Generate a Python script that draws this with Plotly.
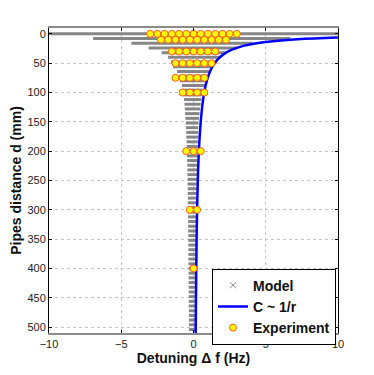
import plotly.graph_objects as go

# model spread: one row every 8 mm, lowest and highest detuning of the row (Hz)
MODEL_D = list(range(0, 505, 8))
MODEL_LO = [
    -10.5, -6.95, -4.3, -3.1, -2.2, -1.76, -1.56, -1.42, -1.14, -1.0,
    -0.93, -0.8, -0.75, -0.7, -0.66, -0.62, -0.6, -0.58, -0.56, -0.54,
    -0.52, -0.5, -0.5, -0.48, -0.47, -0.46, -0.45, -0.44, -0.43, -0.42,
    -0.42, -0.41, -0.41, -0.4, -0.4, -0.39, -0.39, -0.38, -0.38, -0.38,
    -0.37, -0.37, -0.37, -0.36, -0.36, -0.36, -0.35, -0.35, -0.35, -0.35,
    -0.34, -0.34, -0.34, -0.34, -0.33, -0.33, -0.33, -0.33, -0.33, -0.32,
    -0.32, -0.32, -0.32, -0.32,
]
MODEL_HI = [
    10.5, 6.7, 4.1, 3.0, 2.25, 1.76, 1.62, 1.35, 1.14, 0.93,
    0.86, 0.8, 0.66, 0.6, 0.55, 0.5, 0.46, 0.42, 0.38, 0.35,
    0.33, 0.32, 0.31, 0.3, 0.29, 0.28, 0.27, 0.26, 0.25, 0.25,
    0.24, 0.24, 0.23, 0.23, 0.22, 0.22, 0.21, 0.21, 0.21, 0.2,
    0.2, 0.2, 0.2, 0.19, 0.19, 0.19, 0.19, 0.18, 0.18, 0.18,
    0.18, 0.18, 0.17, 0.17, 0.17, 0.17, 0.17, 0.17, 0.16, 0.16,
    0.16, 0.16, 0.16, 0.16,
]

# C ~ 1/r curve
CURVE_D = [5, 7, 10, 15, 20, 27, 35, 45, 56, 70, 90, 113, 150, 200, 300, 400, 510]
CURVE_F = [12.1, 9.1, 6.7, 4.6, 3.5, 2.66, 2.07, 1.62, 1.31, 1.05, 0.82, 0.66,
           0.5, 0.37, 0.25, 0.19, 0.15]

# experiment: measured detunings per pipe distance
EXP_D = [0, 10, 30, 50, 75, 100, 200, 300, 400]
EXP_F = [
    [-3, -2.5, -2, -1.5, -1, -0.5, 0, 0.5, 1, 1.5, 2, 2.5, 3],
    [-2.25, -1.75, -1.25, -0.75, -0.25, 0.25, 0.75, 1.25, 1.75, 2.25],
    [-1.5, -1, -0.5, 0, 0.5, 1, 1.5],
    [-1.25, -0.75, -0.25, 0.25, 0.75, 1.25],
    [-1.25, -0.75, -0.25, 0.25, 0.75],
    [-0.75, -0.25, 0.25, 0.75],
    [-0.5, 0, 0.5],
    [-0.25, 0.25],
    [0],
]

FONT = "Liberation Sans, Arial, sans-serif"

seg_x, seg_y = [], []
for d, lo, hi in zip(MODEL_D, MODEL_LO, MODEL_HI):
    seg_x += [lo, hi, None]
    seg_y += [d, d, None]

exp_x, exp_y = [], []
for d, row in zip(EXP_D, EXP_F):
    exp_x += row
    exp_y += [d] * len(row)

fig = go.Figure()
fig.add_trace(go.Scatter(
    x=seg_x, y=seg_y, mode="lines", line=dict(color="#868686", width=3),
    showlegend=False, hoverinfo="skip", legendgroup="model",
))
fig.add_trace(go.Scatter(
    x=[None], y=[None], mode="markers", name="Model", legendgroup="model",
    marker=dict(symbol="x-thin", size=6, line=dict(color="#808080", width=1)),
))
fig.add_trace(go.Scatter(
    x=CURVE_F, y=CURVE_D, mode="lines", name="C ~ 1/r",
    line=dict(color="#0000ff", width=2.5, shape="spline"),
))
fig.add_trace(go.Scatter(
    x=exp_x, y=exp_y, mode="markers", name="Experiment",
    marker=dict(size=7, color="#ffff00", line=dict(color="#ff5a1e", width=1)),
))

axis_common = dict(
    showgrid=True, gridcolor="#c4c4c4", griddash="dot", gridwidth=1,
    ticks="inside", ticklen=3, tickcolor="#000000", zeroline=False,
    mirror="ticks", automargin=False,
    tickfont=dict(family=FONT, size=11, color="#222222"),
)
fig.update_xaxes(
    range=[-10, 10], tickvals=[-10, -5, 0, 5, 10],
    linecolor="#8a8a8a", linewidth=2, showline=True,
    title=dict(text="<b>Detuning Δ f (Hz)</b>", standoff=2,
               font=dict(family=FONT, size=14, color="#111111")),
    **axis_common,
)
fig.update_yaxes(
    range=[510, -10], tickvals=list(range(0, 501, 50)),
    linecolor="#000000", linewidth=1, showline=True,
    title=dict(text="<b>Pipes distance d (mm)</b>", standoff=6,
               font=dict(family=FONT, size=14, color="#111111")),
    **axis_common,
)
# page body keeps an 8 px margin, so the figure is drawn 8 px smaller
fig.update_layout(
    width=366, height=367,
    margin=dict(l=41, r=36, t=20, b=42),
    paper_bgcolor="white", plot_bgcolor="white",
    showlegend=True,
    legend=dict(
        x=0.564, y=0.211, xanchor="left", yanchor="top",
        bgcolor="white", bordercolor="#000000", borderwidth=1,
        font=dict(family=FONT, size=14, color="#111111", weight="bold"),
        tracegroupgap=0, itemwidth=30,
    ),
)

fig.write_html("out.html")
